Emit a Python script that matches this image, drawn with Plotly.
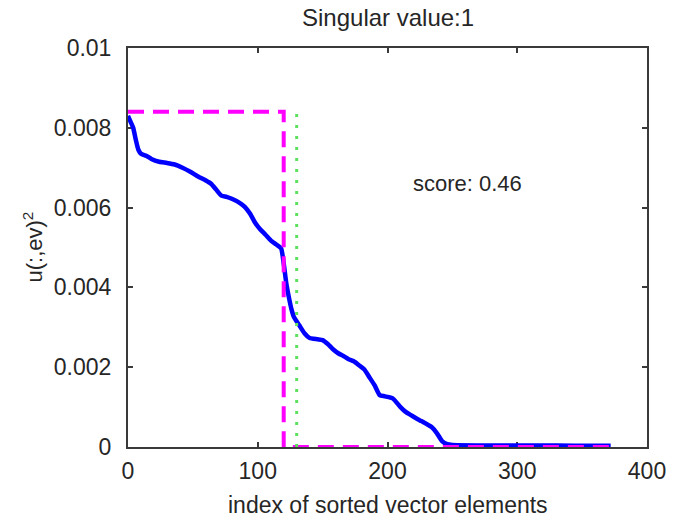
import plotly.graph_objects as go

# ---- data ----
idx = [0, 2, 4, 6, 8, 10, 14, 18, 24, 30, 36, 42, 48, 54, 60, 64, 68, 72, 76, 80,
       86, 90, 94, 98, 102, 106, 110, 114, 118, 120, 122, 124, 126, 128, 132, 136,
       140, 146, 150, 154, 158, 162, 166, 170, 174, 178, 182, 186, 190, 194, 198,
       204, 210, 214, 218, 222, 226, 230, 234, 238, 242, 246, 250, 270, 300, 330,
       360, 372]
u2 = [8.30, 8.15, 8.00, 7.70, 7.45, 7.35, 7.30, 7.22, 7.15, 7.12, 7.08, 7.00, 6.90,
      6.78, 6.68, 6.60, 6.45, 6.30, 6.27, 6.22, 6.12, 6.02, 5.85, 5.62, 5.45, 5.32,
      5.18, 5.08, 4.98, 4.60, 4.10, 3.75, 3.45, 3.25, 3.05, 2.85, 2.73, 2.70, 2.68,
      2.58, 2.45, 2.35, 2.28, 2.20, 2.15, 2.05, 1.95, 1.75, 1.55, 1.30, 1.27, 1.22,
      1.00, 0.88, 0.80, 0.72, 0.65, 0.58, 0.50, 0.35, 0.15, 0.07, 0.05, 0.04, 0.04,
      0.035, 0.03, 0.03]
u2 = [v * 1e-3 for v in u2]

ideal_x = [0, 120, 120, 372]
ideal_y = [0.0084, 0.0084, 0, 0]

cut_x = [130, 130]
cut_y = [0, 0.0084]

score_text = "score: 0.46"
title_text = "Singular value:1"
xlabel = "index of sorted vector elements"
ylabel = "u(:,ev)<sup>2</sup>"

x_ticks = [0, 100, 200, 300, 400]
y_ticks = [0, 0.002, 0.004, 0.006, 0.008, 0.01]
y_ticklabels = ["0", "0.002", "0.004", "0.006", "0.008", "0.01"]

FONT = "Liberation Sans, Arial, sans-serif"
TXT = "#262626"

fig = go.Figure()
fig.add_trace(go.Scatter(x=idx, y=u2, mode="lines",
                         line=dict(color="#0000ff", width=4.5, shape="spline", smoothing=0.5)))
fig.add_trace(go.Scatter(x=ideal_x, y=ideal_y, mode="lines",
                         line=dict(color="#ff00ff", width=4, dash="16px,9px")))
fig.add_trace(go.Scatter(x=cut_x, y=cut_y, mode="lines",
                         line=dict(color="#5ee05e", width=3, dash="3px,8px")))

axis_common = dict(showgrid=False, zeroline=False, showline=True, linewidth=2,
                   linecolor="#3a3a3a", mirror="ticks", ticks="inside", ticklen=5,
                   tickwidth=1.5, tickcolor="#3a3a3a", layer="below traces",
                   tickfont=dict(family=FONT, size=23, color=TXT))

fig.update_layout(
    width=678, height=521,
    margin=dict(l=128, r=24, t=48, b=74),
    paper_bgcolor="white", plot_bgcolor="white",
    showlegend=False,
    xaxis=dict(range=[0, 400], tickvals=x_ticks, ticktext=[str(v) for v in x_ticks],
               ticklabelstandoff=2, **axis_common),
    yaxis=dict(range=[0, 0.01], tickvals=y_ticks, ticktext=y_ticklabels,
               ticklabelstandoff=10, **axis_common),
    annotations=[
        dict(text=title_text, x=0.5, y=1 + 30 / 399, xref="paper", yref="paper",
             xanchor="center", yanchor="middle", showarrow=False,
             font=dict(family=FONT, size=24, color=TXT)),
        dict(text=xlabel, x=0.5, y=-58 / 399, xref="paper", yref="paper",
             xanchor="center", yanchor="middle", showarrow=False,
             font=dict(family=FONT, size=23, color=TXT)),
        dict(text=ylabel, x=-98 / 530, y=0.5, xref="paper", yref="paper",
             xanchor="center", yanchor="middle", showarrow=False, textangle=-90,
             font=dict(family=FONT, size=22, color=TXT)),
        dict(text=score_text, x=218, y=0.0066, xref="x", yref="y",
             xanchor="left", yanchor="middle", showarrow=False,
             font=dict(family=FONT, size=22, color=TXT)),
    ],
)

fig.write_html("out.html", config={"displayModeBar": False},
               post_script="document.body.style.margin='0px';document.body.style.padding='0px';")
